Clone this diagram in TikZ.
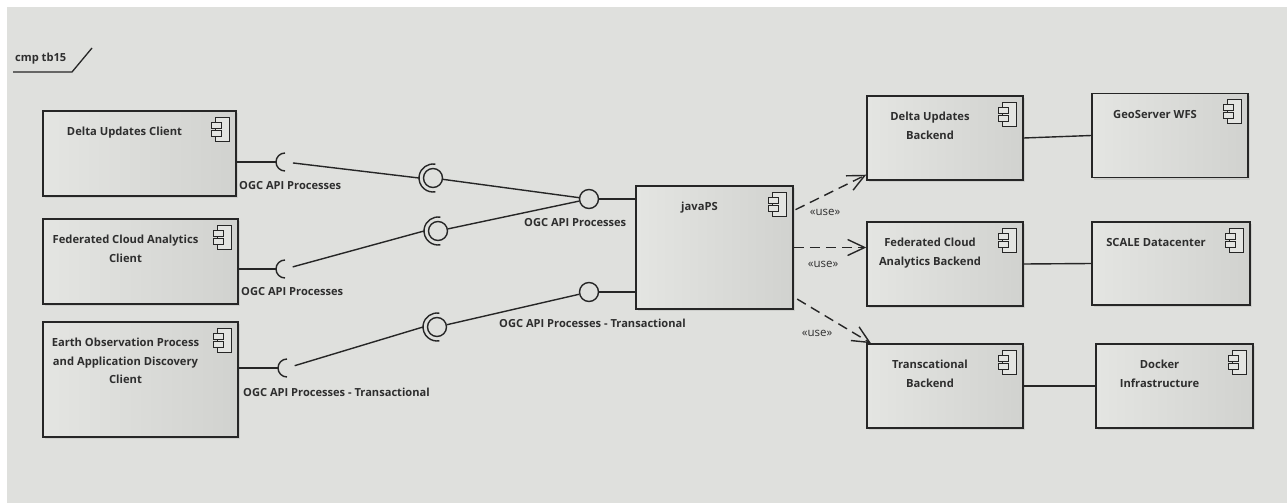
\documentclass[tikz,border=0pt]{standalone}
\usepackage{fontspec}
\setmainfont{Open Sans}
\usetikzlibrary{arrows.meta,calc}

\definecolor{bg}{HTML}{DFE0DD}
\definecolor{boxL}{HTML}{E4E5E2}
\definecolor{boxR}{HTML}{D1D2CF}
\definecolor{ink}{HTML}{262626}
\definecolor{txt}{HTML}{2E2E2E}
\definecolor{shade}{HTML}{CDCECB}

\tikzset{
  comp/.style={rectangle, draw=ink, line width=1.5pt, inner sep=0pt,
    left color=boxL, right color=boxR,
    preaction={fill=shade, transform canvas={shift={(2pt,-2pt)}}}},
  compname/.style={font=\bfseries\fontsize{11.2}{18.5}\selectfont, text=txt,
    align=center, inner sep=0pt},
  wire/.style={draw=ink, line width=1.4pt},
  ball/.style={circle, draw=ink, line width=1.4pt, fill=bg,
    minimum size=19pt, inner sep=0pt},
  elabel/.style={font=\bfseries\fontsize{11.1}{14}\selectfont, text=txt, inner sep=0pt},
  uselabel/.style={font=\fontsize{11.5}{14}\selectfont, text=txt, inner sep=0pt},
  usedep/.style={draw=ink, line width=1.4pt, dash pattern=on 10pt off 6pt,
    -{Straight Barb[length=17pt,width=16pt]}},
  cicon/.pic={
    \draw[ink, line width=1.2pt, fill=boxL] (-21,-7) rectangle (-7,-31);
    \draw[ink, line width=1.2pt, fill=boxL] (-25,-12) rectangle (-15,-18);
    \draw[ink, line width=1.2pt, fill=boxL] (-25,-20) rectangle (-15,-26);
  }
}

% component box with its name near the top and the component icon
\newcommand\umlcomp[5]{%
  \node[comp, minimum width=#3pt, minimum height=#4pt,
    label={[compname, anchor=north, xshift=-15pt, yshift=-17pt]north:{#5}}] (#1) at #2 {};
  \pic at (#1.north east) {cicon};}

\begin{document}
\begin{tikzpicture}[x=1pt,y=1pt]
\useasboundingbox (0,0) rectangle (1287,-503);
\fill[white] (0,0) rectangle (1287,-503);
\fill[bg] (7,-7) rectangle (1287,-503);

% diagram frame tab
\node[elabel, anchor=base west] (frame) at (15,-62) {cmp tb15};
\draw[ink, line width=1.3pt] (13,-72) -- (72,-72) -- (92,-48);

% clients
\umlcomp{C1}{(139.5,-153.5)}{193}{85}{Delta Updates Client}
\umlcomp{C2}{(140.5,-261.5)}{195}{85}{Federated Cloud Analytics\\Client}
\umlcomp{C3}{(140.5,-379.5)}{195}{115}{Earth Observation Process\\and Application Discovery\\Client}

% server
\umlcomp{J}{(714.5,-247.5)}{157}{123}{javaPS}

% backends
\umlcomp{D1}{(945,-138)}{156}{84}{Delta Updates\\Backend}
\umlcomp{D2}{(945,-264)}{156}{84}{Federated Cloud\\Analytics Backend}
\umlcomp{D3}{(945,-386)}{156}{84}{Transcational\\Backend}

% infrastructure
\umlcomp{E1}{(1170,-135.5)}{156}{84}{GeoServer WFS}
\umlcomp{E2}{(1171,-263.5)}{158}{83}{SCALE Datacenter}
\umlcomp{E3}{(1174.5,-386)}{157}{84}{Docker\\Infrastructure}

% required interfaces (sockets) of the clients
\coordinate (s1) at (285,-162);
\coordinate (s2) at (285,-269);
\coordinate (s3) at (287,-368);
\foreach \s in {s1,s2,s3}
  \draw[wire] (\s) ++(90:9pt) arc[start angle=90, end angle=270, radius=9pt];

% provided interfaces (balls) of javaPS
\node[ball] (b1) at (589,-199) {};
\node[ball] (b2) at (589,-292) {};

% assembly points
\node[ball] (a1) at (433,-178) {};
\node[ball] (a2) at (438,-231) {};
\node[ball] (a3) at (437,-327) {};
\foreach \a in {a1,a2,a3}
  \draw[wire] (\a.center) ++(80:14pt) arc[start angle=80, end angle=280, radius=14pt];

% client side wires
\draw[wire] (C1.east |- s1) -- ([xshift=-9pt]s1);
\draw[wire] (C2.east |- s2) -- ([xshift=-9pt]s2);
\draw[wire] (C3.east |- s3) -- ([xshift=-9pt]s3);
\draw[wire, shorten <=8pt] (s1) -- ([xshift=-14pt]a1.center);
\draw[wire, shorten <=8pt] (s2) -- ([xshift=-14pt]a2.center);
\draw[wire, shorten <=8pt] (s3) -- ([xshift=-14pt]a3.center);

% assemblies to javaPS
\draw[wire] (a1) -- (b1);
\draw[wire] (a2) -- (b1);
\draw[wire] (a3) -- (b2);
\draw[wire] (b1) -- (b1 -| J.west);
\draw[wire] (b2) -- (b2 -| J.west);

% interface labels
\node[elabel, anchor=west] (l1) at (239,-186) {OGC API Processes};
\node[elabel, anchor=west] (l2) at (241,-292) {OGC API Processes};
\node[elabel, anchor=west] (l3) at (243,-392) {OGC API Processes - Transactional};
\node[elabel, anchor=west] (l4) at (524,-223) {OGC API Processes};
\node[elabel, anchor=west] (l5) at (499,-323) {OGC API Processes - Transactional};

% usage dependencies
\draw[usedep, shorten <=2pt] (J.25) -- (D1.205);
\draw[usedep] (J.east) -- (J.east -| D2.west);
\draw[usedep, shorten <=4pt] (J.-32) -- (D3.150);
\node[uselabel] (u1) at (825,-212) {«use»};
\node[uselabel] (u2) at (823,-264) {«use»};
\node[uselabel] (u3) at (817,-333) {«use»};

% backend connections
\draw[wire] (D1.east) -- (E1.west);
\draw[wire] (D2.east) -- (E2.west);
\draw[wire] (D3.east) -- (E3.west);
\end{tikzpicture}
\end{document}
